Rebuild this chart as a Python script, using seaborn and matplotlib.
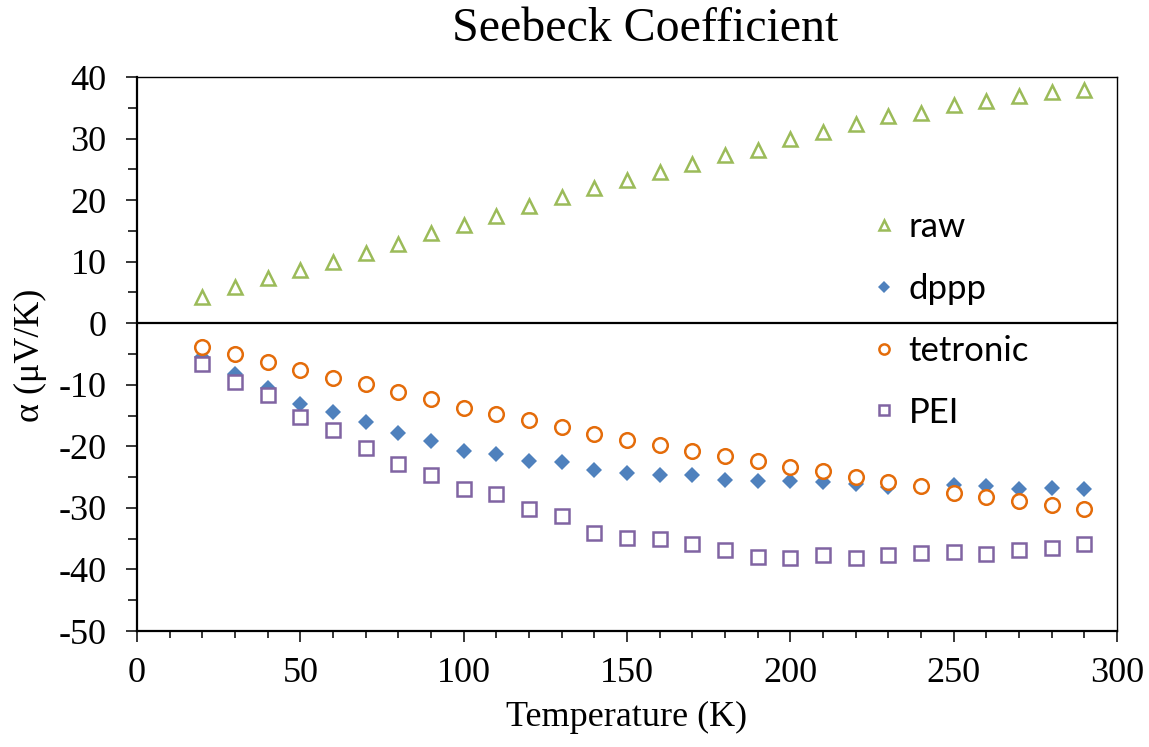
import matplotlib
matplotlib.use("Agg")
import matplotlib.pyplot as plt
from matplotlib.ticker import MultipleLocator
import seaborn as sns
import pandas as pd

temperature = [20, 30, 40, 50, 60, 70, 80, 90, 100, 110, 120, 130, 140, 150,
               160, 170, 180, 190, 200, 210, 220, 230, 240, 250, 260, 270, 280, 290]
raw = [4.3, 5.9, 7.4, 8.7, 9.9, 11.4, 12.9, 14.6, 15.9, 17.4, 19.1, 20.5, 22.0, 23.2,
       24.6, 25.8, 27.3, 28.1, 29.9, 31.1, 32.4, 33.6, 34.2, 35.5, 36.1, 36.9, 37.5, 37.9]
dppp = [-5.5, -8.2, -10.6, -13.1, -14.4, -16.0, -17.9, -19.1, -20.8, -21.2, -22.4, -22.6, -23.9, -24.4,
        -24.6, -24.6, -25.4, -25.7, -25.7, -25.8, -26.2, -26.6, -26.4, -26.3, -26.4, -27.0, -26.8, -27.0]
tetronic = [-3.9, -5.0, -6.3, -7.6, -8.9, -9.9, -11.1, -12.3, -13.7, -14.7, -15.8, -16.9, -18.0, -19.0,
            -19.8, -20.8, -21.6, -22.4, -23.3, -24.0, -25.0, -25.8, -26.4, -27.5, -28.2, -28.9, -29.5, -30.2]
pei = [-6.7, -9.6, -11.6, -15.2, -17.4, -20.2, -22.9, -24.6, -27.0, -27.8, -30.1, -31.3, -34.0, -34.9,
       -35.1, -35.9, -36.8, -37.9, -38.2, -37.6, -38.2, -37.6, -37.4, -37.2, -37.5, -36.9, -36.5, -35.8]

series_names = ["raw", "dppp", "tetronic", "PEI"]
series_values = [raw, dppp, tetronic, pei]
x_ticks = [0, 50, 100, 150, 200, 250, 300]
y_ticks = [-50, -40, -30, -20, -10, 0, 10, 20, 30, 40]

title_text = "Seebeck Coefficient"
x_label = "Temperature (K)"
y_label = "α (μV/K)"

styles = {
    "raw": dict(marker="^", color="#9BBB59", filled=False, ms=10.5),
    "dppp": dict(marker="D", color="#4F81BD", filled=True, ms=8.6),
    "tetronic": dict(marker="o", color="#E46C0A", filled=False, ms=10.5),
    "PEI": dict(marker="s", color="#8064A2", filled=False, ms=10.0),
}

sns.set_theme(style="white")
plt.rcParams["font.family"] = ["Liberation Serif", "DejaVu Serif"]
plt.rcParams["axes.unicode_minus"] = False
plt.rcParams["text.color"] = "black"
plt.rcParams["axes.labelcolor"] = "black"

fig = plt.figure(figsize=(11.49, 7.47), dpi=100)
ax = fig.add_axes([137 / 1149, 1 - 631 / 747, (1117 - 137) / 1149, (631 - 77) / 747])

for name, vals in zip(series_names, series_values):
    st = styles[name]
    df = pd.DataFrame({"T": temperature, "v": vals})
    sns.lineplot(
        data=df, x="T", y="v", ax=ax, estimator=None, sort=False,
        linestyle="none", marker=st["marker"], markersize=st["ms"],
        color=st["color"],
        markerfacecolor=st["color"] if st["filled"] else "white",
        markeredgecolor=st["color"],
        markeredgewidth=0 if st["filled"] else 1.8,
        label=name, zorder=3,
    )

ax.axhline(0, color="black", lw=1.6, zorder=1)

ax.set_xlim(0, 300)
ax.set_ylim(-50, 40)
ax.set_xticks(x_ticks)
ax.set_yticks(y_ticks)
ax.xaxis.set_minor_locator(MultipleLocator(10))
ax.yaxis.set_minor_locator(MultipleLocator(5))
ax.tick_params(axis="both", which="major", direction="out", length=8, width=1.1,
               labelsize=26, color="black", labelcolor="black")
ax.tick_params(axis="x", which="major", pad=11, bottom=True)
ax.tick_params(axis="y", which="major", pad=14, left=True)
ax.tick_params(axis="x", which="minor", direction="out", length=5, width=1.1, bottom=True, color="black")
ax.tick_params(axis="y", which="minor", direction="out", length=6.5, width=1.1, left=True, color="black")

for side in ["left", "bottom"]:
    ax.spines[side].set_color("black")
    ax.spines[side].set_linewidth(1.6)
for side in ["top", "right"]:
    ax.spines[side].set_color("black")
    ax.spines[side].set_linewidth(1.0)

ax.set_xlabel("")
ax.set_ylabel("")
fig.text(627 / 1149, 1 - 717 / 747, x_label, ha="center", va="center", fontsize=26, color="black")
fig.text(30 / 1149, 1 - 355 / 747, y_label, ha="center", va="center", rotation=90, fontsize=26, color="black")
fig.text(645 / 1149, 1 - 29 / 747, title_text, ha="center", va="center", fontsize=34.5, color="black")

leg = ax.legend(
    loc="upper left", bbox_to_anchor=(874 / 1149, 1 - 211 / 747), bbox_transform=fig.transFigure,
    frameon=False, borderpad=0, borderaxespad=0, handlelength=0.6, handletextpad=0.4,
    labelspacing=0.86, markerscale=0.7, prop={"family": ["Lato", "DejaVu Sans"], "size": 25},
)
for t in leg.get_texts():
    t.set_color("black")

fig.savefig("out.png", dpi=100)
